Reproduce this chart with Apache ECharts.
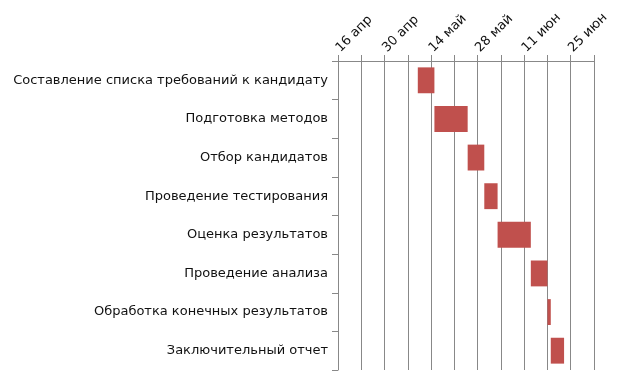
<!DOCTYPE html>
<html>
<head>
<meta charset="utf-8">
<script src="https://cdn.jsdelivr.net/npm/echarts@6/dist/echarts.min.js"></script>
<style>
  html, body { margin: 0; padding: 0; background: #ffffff; }
  #chart { width: 622px; height: 377px; }
</style>
</head>
<body>
<div id="chart"></div>
<script>
const tasks = [
  'Составление списка требований к кандидату',
  'Подготовка методов',
  'Отбор кандидатов',
  'Проведение тестирования',
  'Оценка результатов',
  'Проведение анализа',
  'Обработка конечных результатов',
  'Заключительный отчет'
];
const startDates = ['2024-05-10', '2024-05-15', '2024-05-25', '2024-05-30', '2024-06-03', '2024-06-13', '2024-06-18', '2024-06-19'];
const endDates = ['2024-05-15', '2024-05-25', '2024-05-30', '2024-06-03', '2024-06-13', '2024-06-18', '2024-06-19', '2024-06-23'];
const axisStart = '2024-04-16';
const axisEnd = '2024-07-02';
const monthNames = ['янв', 'фев', 'мар', 'апр', 'май', 'июн', 'июл', 'авг', 'сен', 'окт', 'ноя', 'дек'];

const DAY = 86400000;
const base = Date.parse(axisStart + 'T00:00:00Z');
function dayOffset(s) {
  return Math.round((Date.parse(s + 'T00:00:00Z') - base) / DAY);
}
function dayLabel(v) {
  const d = new Date(base + v * DAY);
  return d.getUTCDate() + ' ' + monthNames[d.getUTCMonth()];
}

const barData = tasks.map((t, i) => [i, dayOffset(startDates[i]), dayOffset(endDates[i])]);

function renderBar(params, api) {
  const cat = api.value(0);
  const p0 = api.coord([api.value(1), cat]);
  const p1 = api.coord([api.value(2), cat]);
  const h = api.size([0, 1])[1] * 0.67;
  return {
    type: 'rect',
    shape: { x: p0[0], y: p0[1] - h / 2, width: p1[0] - p0[0], height: h },
    style: { fill: '#c0504d' }
  };
}

const chart = echarts.init(document.getElementById('chart'), null, { renderer: 'canvas' });
chart.setOption({
  animation: false,
  textStyle: { fontFamily: 'DejaVu Sans' },
  grid: { left: 338, right: 28, top: 61, bottom: 7, containLabel: false },
  xAxis: {
    type: 'value',
    position: 'top',
    min: 0,
    max: dayOffset(axisEnd),
    interval: 7,
    axisLine: { show: true, lineStyle: { color: '#888888', width: 1 } },
    axisTick: { show: true, length: 6, lineStyle: { color: '#888888' } },
    splitLine: { show: true, lineStyle: { color: '#888888', width: 1 } },
    axisLabel: {
      rotate: -45,
      fontSize: 13,
      color: '#111111',
      margin: 11,
      formatter: (v) => (v % 14 === 0 && v < dayOffset(axisEnd) ? dayLabel(v) : '')
    }
  },
  yAxis: {
    type: 'category',
    inverse: true,
    data: tasks,
    axisLine: { show: true, lineStyle: { color: '#888888', width: 1 } },
    axisTick: { show: true, length: 6, lineStyle: { color: '#888888' } },
    splitLine: { show: false },
    axisLabel: { fontSize: 13, color: '#111111', margin: 10 }
  },
  series: [{
    type: 'custom',
    renderItem: renderBar,
    encode: { x: [1, 2], y: 0 },
    data: barData
  }]
});
</script>
</body>
</html>
